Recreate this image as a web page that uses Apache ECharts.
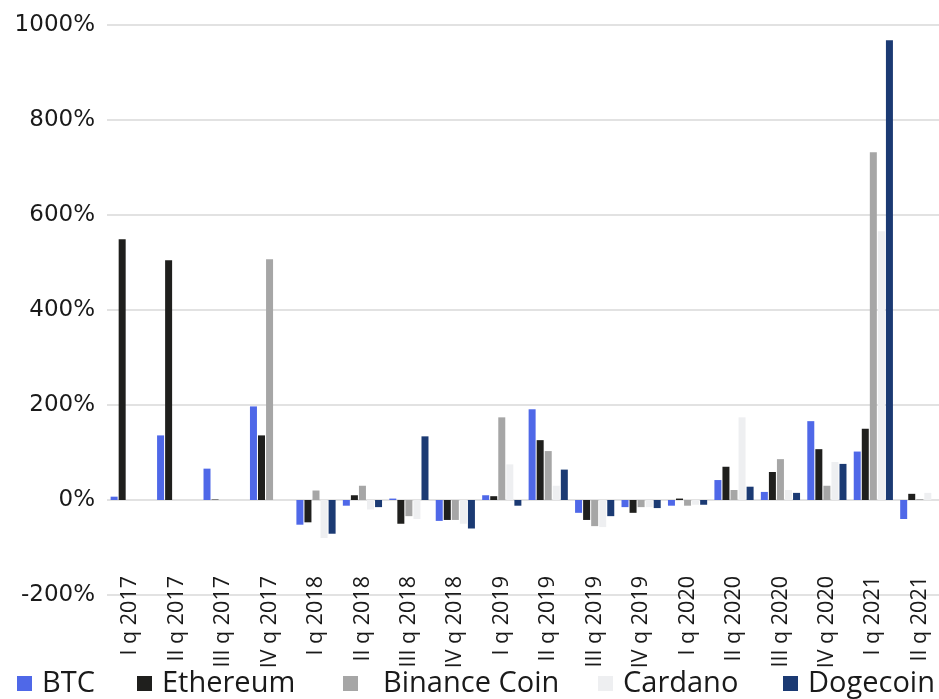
<!DOCTYPE html>
<html>
<head>
<meta charset="utf-8">
<script src="https://cdn.jsdelivr.net/npm/echarts@6/dist/echarts.min.js"></script>
<style>
html,body{margin:0;padding:0;background:#fff;}
#chart{width:939px;height:699px;}
</style>
</head>
<body>
<div id="chart"></div>
<script>
const categories = ["I q 2017","II q 2017","III q 2017","IV q 2017","I q 2018","II q 2018","III q 2018","IV q 2018","I q 2019","II q 2019","III q 2019","IV q 2019","I q 2020","II q 2020","III q 2020","IV q 2020","I q 2021","II q 2021"];
const seriesNames = ["BTC","Ethereum","Binance Coin","Cardano","Dogecoin"];
const btc      = [7,136,66,197,-52,-12,3,-44,10,191,-27,-15,-12,42,17,166,102,-40];
const ethereum = [549,505,1,136,-47,10,-50,-42,8,126,-42,-27,3,70,59,107,150,13];
const binance  = [null,null,null,507,20,30,-34,-42,174,103,-55,-15,-12,21,86,30,732,2];
const cardano  = [null,null,null,null,-80,-20,-40,-50,75,30,-57,-15,-10,174,21,80,566,15];
const dogecoin = [null,null,null,null,-71,-15,134,-60,-12,64,-34,-17,-10,28,15,76,968,null];
const yTicks = { min: -200, max: 1000, interval: 200 };

const values = [btc, ethereum, binance, cardano, dogecoin];
const colors = ["#4f68e8","#1f1f1d","#a6a6a6","#eeeff1","#1b3a73"];
const legendLeft = [17, 137, 343, 598, 783];
const legendTextPad = [5, 5, 20, 5, 5];
const font = "'Open Sans', 'Noto Sans', sans-serif";

const chart = echarts.init(document.getElementById('chart'), null, {renderer:'canvas'});
chart.setOption({
  animation: false,
  backgroundColor: '#ffffff',
  grid: { left: 107, top: 25, width: 836, height: 570, containLabel: false, outerBoundsMode: 'none' },
  legend: seriesNames.map((n, i) => ({
    data: [n], left: legendLeft[i], top: 669, padding: 0, itemWidth: 15, itemHeight: 15, itemGap: 10,
    icon: 'rect', textStyle: { fontFamily: font, fontSize: 29, color: '#1a1a1a', padding: [0, 0, 0, legendTextPad[i]] }
  })),
  xAxis: {
    type: 'category', data: categories,
    axisLine: { show: false, onZero: false },
    axisTick: { show: false },
    axisLabel: { rotate: 90, margin: -19, interval: 0, fontFamily: font, fontSize: 21.5, color: '#1a1a1a' }
  },
  yAxis: {
    type: 'value', min: yTicks.min, max: yTicks.max, interval: yTicks.interval,
    axisLine: { show: false }, axisTick: { show: false },
    splitLine: { lineStyle: { color: '#d9d9d9', width: 1.5 } },
    axisLabel: { formatter: v => v + '%', margin: 12, fontFamily: "'DejaVu Sans', sans-serif", fontSize: 23, color: '#1a1a1a' }
  },
  series: seriesNames.map((n, i) => ({
    name: n, type: 'bar', data: values[i], barWidth: 7, barGap: '15%',
    itemStyle: { color: colors[i] }
  }))
});
</script>
</body>
</html>
